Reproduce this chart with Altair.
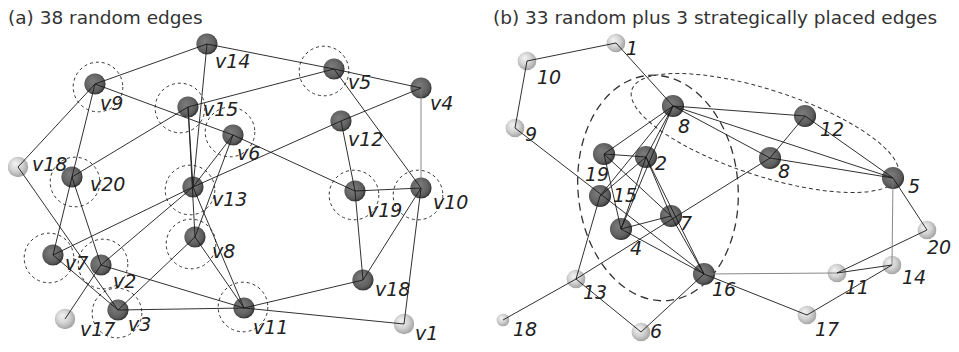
import altair as alt
import pandas as pd

# ---------------- Panel (a): 38 random edges ----------------
a_names = ["v14", "v9", "v5", "v4", "v15", "v6", "v12", "v18", "v20", "v13",
           "v19", "v10", "v8", "v7", "v2", "v18", "v3", "v17", "v11", "v1"]
a_x = [207, 95, 334, 421, 188, 233, 341, 18, 72, 193, 355, 421, 195, 53, 101, 363, 118, 65, 244, 404]
a_y = [44, 84, 69, 88, 107, 135, 121, 167, 177, 187, 191, 188, 237, 255, 265, 280, 310, 319, 308, 324]
a_shade = ["dark", "dark", "dark", "dark", "dark", "dark", "dark", "light", "dark", "dark",
           "dark", "dark", "dark", "dark", "dark", "dark", "dark", "light", "dark", "light"]
a_label_dx = [8, 5, 14, 9, 15, 4, 7, 14, 18, 19, 12, 12, 17, 12, 12, 12, 10, 15, 9, 11]
a_label_dy = [18, 20, 14, 16, 3, 19, 19, -2, 8, 13, 20, 15, 15, 9, 17, 10, 15, 11, 20, 10]
a_edges = [(1, 0), (0, 2), (2, 3), (0, 9), (1, 5), (1, 7), (1, 8), (8, 13), (8, 14),
           (7, 16), (8, 4), (4, 2), (2, 11), (3, 11), (13, 9), (9, 6), (6, 3), (5, 10),
           (6, 10), (10, 11), (11, 15), (11, 19), (10, 15), (15, 18), (18, 19), (16, 18),
           (14, 18), (13, 16), (14, 17), (16, 12), (4, 9), (4, 12), (5, 9), (5, 12),
           (9, 18), (12, 18), (14, 9)]
a_gray_edges = [(3, 11)]
# dashed neighbourhood circles (centres)
ring_x = [98, 324, 180, 230, 75, 190, 191, 49, 103, 117, 243, 354, 418]
ring_y = [87, 71, 108, 132, 182, 190, 244, 258, 264, 313, 307, 195, 195]

# ---------------- Panel (b): 33 random + 3 strategic ----------------
b_names = ["1", "10", "9", "8", "12", "8", "19", "2", "15", "7",
           "4", "5", "16", "13", "20", "14", "11", "18", "6", "17"]
b_x = [616, 527, 515, 673, 805, 770, 604, 646, 600, 671, 621, 893, 704, 576, 927, 892, 837, 503, 641, 807]
b_y = [43, 61, 128, 106, 116, 158, 154, 157, 196, 216, 229, 178, 274, 279, 230, 265, 273, 320, 332, 315]
b_shade = ["light", "light", "light", "dark", "dark", "dark", "dark", "dark", "dark", "dark",
           "dark", "dark", "dark", "light", "light", "light", "light", "small", "light", "light"]
b_label_dx = [10, 10, 10, 5, 15, 8, -19, 9, 13, 9, 9, 15, 8, 7, 0, 10, 8, 10, 9, 8]
b_label_dy = [6, 17, 7, 21, 14, 14, 21, 7, 0, 8, 20, 9, 16, 14, 18, 13, 15, 10, 0, 15]
b_edges = [(0, 1), (1, 2), (0, 3), (2, 12), (3, 6), (3, 7), (3, 8), (3, 10), (3, 4),
           (3, 11), (3, 5), (5, 11), (4, 11), (4, 5), (5, 13), (6, 7), (6, 10), (6, 9),
           (7, 8), (7, 10), (7, 12), (7, 9), (10, 9), (10, 12), (9, 12), (8, 13),
           (13, 18), (18, 12), (13, 17), (12, 16), (16, 15), (16, 14), (15, 19),
           (19, 12), (11, 15), (11, 14)]
b_gray_edges = [(11, 15), (12, 16)]

# dashed ellipses (centre)
ell_big_x, ell_big_y = [658], [188]
ell_small_x, ell_small_y = [765], [133]

# ---------------- build tables ----------------
node_rows = []
for n, x, y, s, dx, dy in zip(a_names, a_x, a_y, a_shade, a_label_dx, a_label_dy):
    node_rows.append(dict(name=n, x=x, y=y, shade=s, lx=x + dx, ly=y + dy,
                          size=450 if s == "dark" else 415))
for n, x, y, s, dx, dy in zip(b_names, b_x, b_y, b_shade, b_label_dx, b_label_dy):
    sz = {"dark": 490, "light": 350, "small": 160}[s]
    node_rows.append(dict(name=n, x=x, y=y, shade=s, lx=x + dx, ly=y + dy, size=sz))
nodes = pd.DataFrame(node_rows)

edge_rows = []
for (i, j) in a_edges:
    edge_rows.append(dict(x=a_x[i], y=a_y[i], x2=a_x[j], y2=a_y[j],
                          c="g" if (i, j) in a_gray_edges else "k"))
for (i, j) in b_edges:
    edge_rows.append(dict(x=b_x[i], y=b_y[i], x2=b_x[j], y2=b_y[j],
                          c="g" if (i, j) in b_gray_edges else "k"))
edges = pd.DataFrame(edge_rows)

rings = pd.DataFrame(dict(x=ring_x, y=ring_y))
ell_big = pd.DataFrame(dict(x=ell_big_x, y=ell_big_y))
ell_small = pd.DataFrame(dict(x=ell_small_x, y=ell_small_y))

X = alt.Scale(domain=[8, 951], nice=False, zero=False)
Y = alt.Scale(domain=[344, 8], nice=False, zero=False)

def xy(xf="x", yf="y"):
    return dict(x=alt.X(f"{xf}:Q", scale=X, axis=None),
                y=alt.Y(f"{yf}:Q", scale=Y, axis=None))

grad_dark = alt.RadialGradient(
    gradient="radial", x1=0.38, y1=0.35, r1=0.0, x2=0.45, y2=0.45, r2=0.58,
    stops=[alt.GradientStop(color="#7c7c7c", offset=0.0),
           alt.GradientStop(color="#666666", offset=0.6),
           alt.GradientStop(color="#585858", offset=0.8),
           alt.GradientStop(color="#262626", offset=1.0)])
grad_light = alt.RadialGradient(
    gradient="radial", x1=0.35, y1=0.32, r1=0.0, x2=0.45, y2=0.45, r2=0.6,
    stops=[alt.GradientStop(color="#f4f4f4", offset=0.0),
           alt.GradientStop(color="#d2d2d2", offset=0.55),
           alt.GradientStop(color="#9c9c9c", offset=1.0)])

ring_layer = alt.Chart(rings).mark_point(
    shape="circle", filled=False, stroke="#333333", strokeWidth=1,
    strokeDash=[3, 3], size=2463, opacity=1).encode(**xy())

big_path = "M 0 -1 A 0.708 1 0 1 1 0 1 A 0.708 1 0 1 1 0 -1 Z"
small_path = "M -1 0 A 1 0.307 0 1 1 1 0 A 1 0.307 0 1 1 -1 0 Z"
ell_big_layer = alt.Chart(ell_big).mark_point(
    shape=big_path, filled=False, stroke="#333333", strokeWidth=1.3,
    strokeDash=[8, 5], size=51076, angle=355, opacity=1).encode(**xy())
ell_small_layer = alt.Chart(ell_small).mark_point(
    shape=small_path, filled=False, stroke="#333333", strokeWidth=1,
    strokeDash=[4, 3], size=78400, angle=18, opacity=1).encode(**xy())

dark_layer = alt.Chart(nodes).transform_filter(alt.datum.shade == "dark").mark_circle(
    fill=grad_dark, opacity=1).encode(size=alt.Size("size:Q", scale=None), **xy())
light_layer = alt.Chart(nodes).transform_filter(alt.datum.shade != "dark").mark_circle(
    fill=grad_light, opacity=1).encode(size=alt.Size("size:Q", scale=None), **xy())

edge_layer = alt.Chart(edges).mark_rule(strokeWidth=0.9).encode(
    x=alt.X("x:Q", scale=X, axis=None), y=alt.Y("y:Q", scale=Y, axis=None),
    x2="x2:Q", y2="y2:Q",
    color=alt.Color("c:N", scale=alt.Scale(domain=["k", "g"], range=["#1a1a1a", "#7a7a7a"]),
                    legend=None))

label_layer = alt.Chart(nodes).mark_text(
    align="left", baseline="middle", font="DejaVu Sans", fontStyle="italic",
    fontSize=19, color="#222222").encode(text="name:N", **xy("lx", "ly"))

titles = pd.DataFrame(dict(t=["(a) 38 random edges",
                              "(b) 33 random plus 3 strategically placed edges"],
                           tx=[8, 493], ty=[18, 18]))
title_layer = alt.Chart(titles).mark_text(
    align="left", baseline="middle", font="DejaVu Sans", fontSize=18.5,
    color="#333333").encode(text="t:N", **xy("tx", "ty"))

chart = alt.layer(ring_layer, ell_big_layer, ell_small_layer, dark_layer, light_layer,
                  edge_layer, label_layer, title_layer).properties(
    width=943, height=336, autosize=alt.AutoSizeParams(type="none"), padding=0,
    background="white").configure_view(stroke=None)

chart.save("out.html", embed_options={"renderer": "svg", "actions": False})
